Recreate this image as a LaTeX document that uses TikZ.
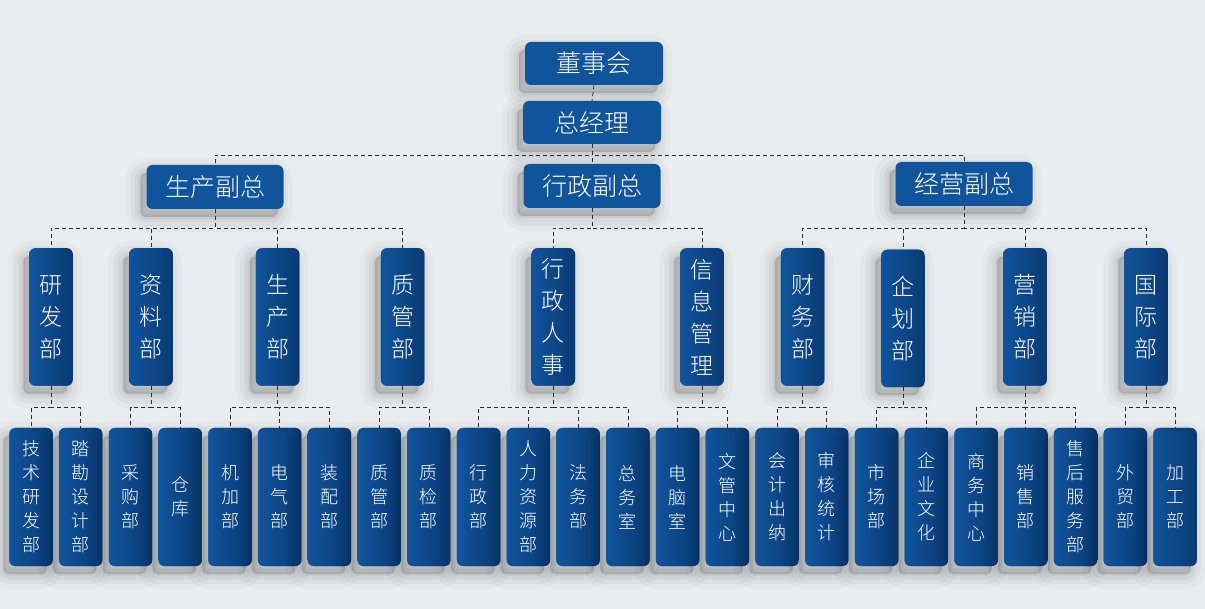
\documentclass[tikz,border=0pt]{standalone}
\usepackage{fontspec}
\newfontfamily\cjk{Noto Sans CJK SC Light}
\usepackage{tikz}
\usetikzlibrary{shadows}
\definecolor{boxblue}{RGB}{16,84,156}
\definecolor{boxdark}{RGB}{9,58,116}
\definecolor{paper}{RGB}{234,236,238}
\definecolor{linegray}{RGB}{45,45,45}

\tikzset{
  shadowlayer/.style n args={2}{general shadow={shadow xshift=-6pt, shadow yshift=-8pt,
      fill=black, draw=black, line join=round, opacity=#1, line width=#2}},
  softshadow/.style={shadowlayer={0.025}{30pt}, shadowlayer={0.03}{20pt},
    shadowlayer={0.04}{11pt}, shadowlayer={0.05}{4pt}},
  box/.style={rounded corners=6pt, fill=boxblue, text=white, inner sep=0pt, softshadow},
  headbox/.style={box, minimum width=138pt, minimum height=43pt,
    font=\cjk\fontsize{25}{30}\selectfont},
  deptbox/.style={box, left color=boxblue, right color=boxdark,
    minimum width=43.5pt, minimum height=137.5pt, align=center,
    font=\cjk\fontsize{23}{32}\selectfont},
  leafbox/.style={box, left color=boxblue, right color=boxdark,
    minimum width=43.5pt, minimum height=138pt, align=center,
    font=\cjk\fontsize{18}{24}\selectfont},
  link/.style={draw=linegray, dash pattern=on 4pt off 3pt, line width=0.8pt}
}

\begin{document}
\begin{tikzpicture}[x=1pt, y=-1pt]
	\fill[paper] (0,0) rectangle (1205,609);
	\useasboundingbox (0,0) rectangle (1205,609);

	\coordinate (busA) at (0,155.5);
	\coordinate (busB) at (0,228);
	\coordinate (busC) at (0,407.5);

	% top
	\node[headbox] (b) at (594,63.5) {董事会};
	\node[headbox] (g) at (592,122.5) {总经理};

	% vice presidents
	\node[headbox, minimum width=137pt, minimum height=44pt] (v1) at (215,187) {生产副总};
	\node[headbox, minimum width=137pt, minimum height=44pt] (v2) at (592,186) {行政副总};
	\node[headbox, minimum width=137pt, minimum height=44pt] (v3) at (964,184) {经营副总};

	% departments
	\node[deptbox] (d1) at (51,317) {研\\发\\部};
	\node[deptbox] (d2) at (151,317) {资\\料\\部};
	\node[deptbox] (d3) at (277.7,317) {生\\产\\部};
	\node[deptbox] (d4) at (402.7,317) {质\\管\\部};
	\node[deptbox] (d5) at (553.3,317) {行\\政\\人\\事};
	\node[deptbox] (d6) at (702,317) {信\\息\\管\\理};
	\node[deptbox] (d7) at (802.7,317) {财\\务\\部};
	\node[deptbox] (d8) at (903,318.5) {企\\划\\部};
	\node[deptbox] (d9) at (1025,317) {营\\销\\部};
	\node[deptbox] (d10) at (1146,317) {国\\际\\部};

	% sections
	\node[leafbox] (l1) at (31.0,497) {技\\术\\研\\发\\部};
	\node[leafbox] (l2) at (80.7,497) {踏\\勘\\设\\计\\部};
	\node[leafbox] (l3) at (130.5,497) {采\\购\\部};
	\node[leafbox] (l4) at (180.2,497) {仓\\库};
	\node[leafbox] (l5) at (230.0,497) {机\\加\\部};
	\node[leafbox] (l6) at (279.7,497) {电\\气\\部};
	\node[leafbox] (l7) at (329.4,497) {装\\配\\部};
	\node[leafbox] (l8) at (379.2,497) {质\\管\\部};
	\node[leafbox] (l9) at (428.9,497) {质\\检\\部};
	\node[leafbox] (l10) at (478.7,497) {行\\政\\部};
	\node[leafbox] (l11) at (528.4,497) {人\\力\\资\\源\\部};
	\node[leafbox] (l12) at (578.1,497) {法\\务\\部};
	\node[leafbox] (l13) at (627.9,497) {总\\务\\室};
	\node[leafbox] (l14) at (677.6,497) {电\\脑\\室};
	\node[leafbox] (l15) at (727.4,497) {文\\管\\中\\心};
	\node[leafbox] (l16) at (777.1,497) {会\\计\\出\\纳};
	\node[leafbox] (l17) at (826.8,497) {审\\核\\统\\计};
	\node[leafbox] (l18) at (876.6,497) {市\\场\\部};
	\node[leafbox] (l19) at (926.3,497) {企\\业\\文\\化};
	\node[leafbox] (l20) at (976.1,497) {商\\务\\中\\心};
	\node[leafbox] (l21) at (1025.8,497) {销\\售\\部};
	\node[leafbox] (l22) at (1075.5,497) {售\\后\\服\\务\\部};
	\node[leafbox] (l23) at (1125.3,497) {外\\贸\\部};
	\node[leafbox] (l24) at (1175.0,497) {加\\工\\部};

	% connectors
	\draw[link] (b.south) -- (g.north);
	\foreach \c in {v1,v2,v3}
	{\draw[link] (g.south) -- (g.south |- busA) -| (\c.north);}
	\foreach \p/\c in {v1/d1,v1/d2,v1/d3,v1/d4,v2/d5,v2/d6,v3/d7,v3/d8,v3/d9,v3/d10}
	{\draw[link] (\p.south) -- (\p.south |- busB) -| (\c.north);}
	\foreach \p/\c in {d1/l1,d1/l2,d2/l3,d2/l4,d3/l5,d3/l6,d3/l7,d4/l8,d4/l9,
	                   d5/l10,d5/l11,d5/l12,d5/l13,d6/l14,d6/l15,d7/l16,d7/l17,
	                   d8/l18,d8/l19,d9/l20,d9/l21,d9/l22,d10/l23,d10/l24}
	{\draw[link] (\p.south) -- (\p.south |- busC) -| (\c.north);}
\end{tikzpicture}
\end{document}
